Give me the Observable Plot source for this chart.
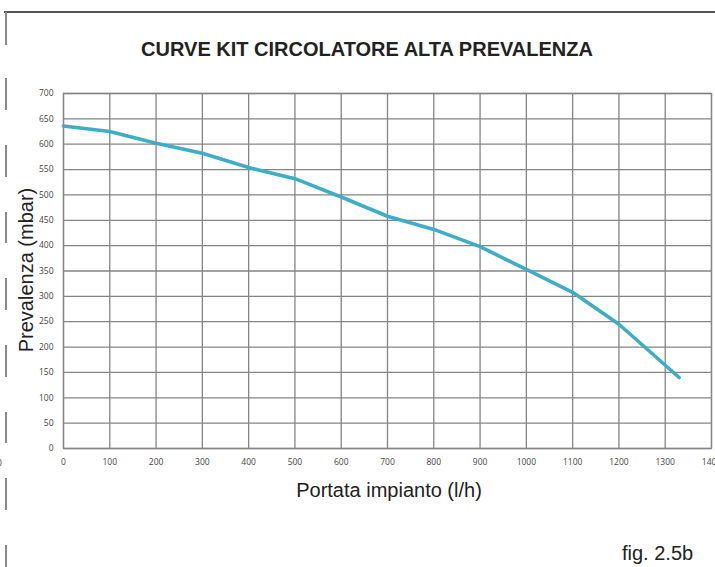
<!DOCTYPE html>
<html>
<head>
<meta charset="utf-8">
<script src="https://cdn.jsdelivr.net/npm/d3@7"></script>
<script src="https://cdn.jsdelivr.net/npm/@observablehq/plot@0.6"></script>
<style>
  html, body { margin: 0; padding: 0; background: #fff; overflow: hidden; }
  #wrap { position: relative; width: 715px; height: 567px; font-family: "Liberation Sans", Arial, sans-serif; }
  #chart { position: absolute; left: 0; top: 0; }
  .abs { position: absolute; white-space: nowrap; }
</style>
</head>
<body>
<div id="wrap">
  <div id="chart"></div>
</div>
<script>
// ---- data ----
const title = "CURVE KIT CIRCOLATORE ALTA PREVALENZA";
const xTitle = "Portata impianto (l/h)";
const yTitle = "Prevalenza (mbar)";
const figLabel = "fig. 2.5b";
const flow = [0, 100, 200, 300, 400, 500, 600, 700, 800, 900, 1000, 1100, 1200, 1330];
const head = [636, 625, 602, 582, 554, 532, 496, 458, 432, 398, 353, 308, 245, 140];
const xTicks = [0, 100, 200, 300, 400, 500, 600, 700, 800, 900, 1000, 1100, 1200, 1300, 1400];
const yTicks = [0, 50, 100, 150, 200, 250, 300, 350, 400, 450, 500, 550, 600, 650, 700];

const rows = flow.map((f, i) => ({flow: f, head: head[i]}));

const gridColor = "#858585";
const plot = Plot.plot({
  width: 715,
  height: 567,
  marginLeft: 63,
  marginRight: 4,
  marginTop: 93,
  marginBottom: 119,
  style: {background: "transparent", overflow: "visible"},
  x: {domain: [0, 1400]},
  y: {domain: [0, 700]},
  marks: [
    Plot.gridX(xTicks, {stroke: gridColor, strokeOpacity: 1, strokeWidth: 1.3}),
    Plot.gridY(yTicks, {stroke: gridColor, strokeOpacity: 1, strokeWidth: 1.3}),
    Plot.frame({stroke: gridColor, strokeWidth: 1.3}),
    Plot.axisX(xTicks, {tickSize: 0, tickPadding: 10, fontSize: 8.5, fill: "#444", label: null, tickFormat: d => String(d), fontFamily: "'Open Sans', sans-serif"}),
    Plot.axisY(yTicks, {tickSize: 0, tickPadding: 10, fontSize: 8.5, fill: "#444", label: null, tickFormat: d => String(d), fontFamily: "'Open Sans', sans-serif"}),
    Plot.line(rows, {x: "flow", y: "head", stroke: "#3eaec7", strokeWidth: 3.6, strokeLinejoin: "round"})
  ]
});
document.getElementById("chart").appendChild(plot);

const wrap = document.getElementById("wrap");
function addDiv(css, text) {
  const d = document.createElement("div");
  d.className = "abs";
  d.style.cssText = css;
  if (text != null) d.textContent = text;
  wrap.appendChild(d);
  return d;
}
// page decoration: top rule and left dashed margin line
addDiv("left:4px;top:11px;width:711px;height:1.5px;background:#555;");
[[12,45],[78,110],[145,177],[212,243],[278,310],[345,377],[412,443],[478,510],[545,567]].forEach(([a,b]) => {
  addDiv(`left:5px;top:${a}px;width:2px;height:${b-a}px;background:#8a8a8a;`);
});
// texts
addDiv("left:367px;top:37px;transform:translateX(-50%);font-size:20px;font-weight:bold;color:#222;line-height:24px;", title);
addDiv("left:389px;top:478px;transform:translateX(-50%);font-size:20px;color:#222;line-height:24px;", xTitle);
addDiv("left:26px;top:270px;transform:translate(-50%,-50%) rotate(-90deg);font-size:20px;color:#222;line-height:24px;", yTitle);
addDiv("left:622px;top:541px;font-size:20px;color:#222;line-height:24px;", figLabel);
addDiv("left:-3px;top:457px;font-size:8.5px;color:#444;font-family:'Open Sans',sans-serif;line-height:12px;", "0");
</script>
</body>
</html>
